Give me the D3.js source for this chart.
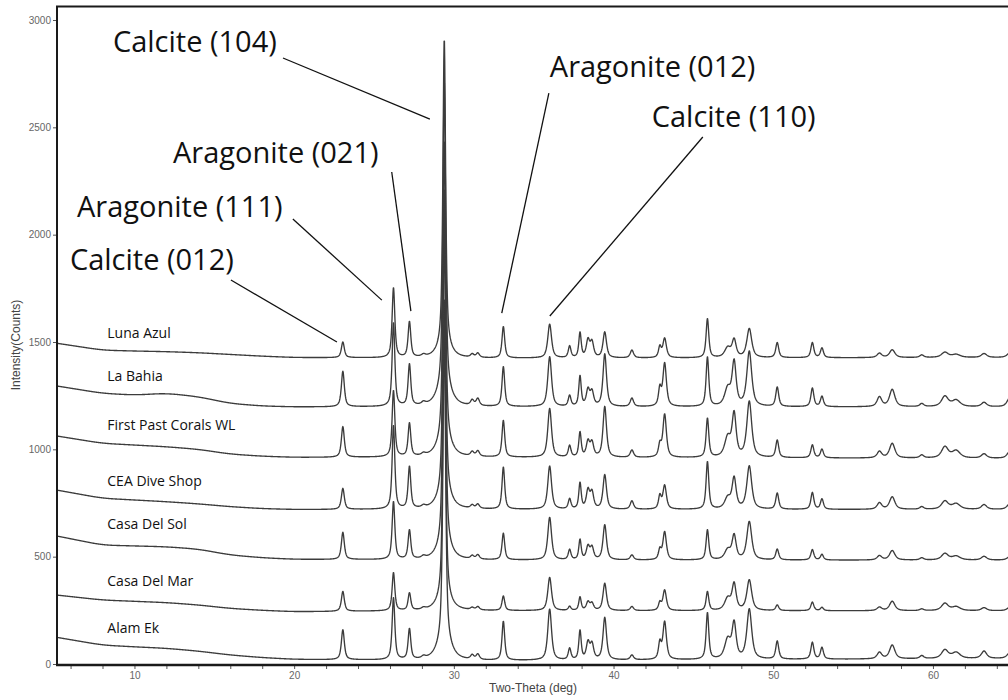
<!DOCTYPE html>
<meta charset="utf-8">
<style>
body { margin: 0; background: #fff; }
svg { display: block; background: #fff; }
.trace { fill: none; stroke: #3c3c3c; stroke-width: 1.35px; stroke-linejoin: round; }
.axis text { font-family: Arial, "Liberation Sans", sans-serif; font-size: 10px; fill: #666; }
.axis line { stroke: #555; stroke-width: 1px; }
.axis path { display: none; }
.frame { stroke: #1a1a1a; stroke-width: 2px; }
.axis-title { font-family: Arial, "Liberation Sans", sans-serif; font-size: 12px; fill: #444; }
.sample { font-family: "Open Sans", "Noto Sans", sans-serif; font-size: 14px; fill: #111; }
.phase { font-family: "Open Sans", "Noto Sans", sans-serif; font-size: 29px; fill: #111; }
.leader { stroke: #111; stroke-width: 1.3px; }
</style>
<body>
<script src="https://d3js.org/d3.v7.min.js"></script>
<script>
var width = 1008, height = 700;

// samples, top to bottom
var samples = ["Luna Azul", "La Bahia", "First Past Corals WL", "CEA Dive Shop",
               "Casa Del Sol", "Casa Del Mar", "Alam Ek"];
// label position (two-theta, counts) for each sample name
var sampleLabelX = 8.3;
var sampleLabelY = [1518, 1318, 1090, 829, 629, 363, 144];

// background at these angles
var baseAngles = [5.15, 8, 10, 12, 14, 16, 18, 20, 30, 65];
var baselines = [
  [1494, 1462, 1458, 1455, 1450, 1442, 1434, 1428, 1424, 1428],
  [1295, 1261, 1253, 1261, 1245, 1214, 1202, 1198, 1198, 1198],
  [1062, 1028, 1020, 1012, 1000,  978,  968,  963,  963,  958],
  [ 810,  772,  764,  756,  746,  733,  724,  720,  720,  720],
  [ 596,  554,  550,  546,  535,  508,  495,  488,  484,  484],
  [ 321,  298,  292,  286,  275,  259,  250,  244,  248,  248],
  [ 124,   88,   80,   73,   60,   42,   30,   22,   15,   26]
];

// reflections: position (deg), full width at half max (deg)
var peakPos   = [23.05, 26.22, 27.22, 28.1, 29.4, 29.4, 31.15, 31.5, 33.1, 36.0,
                 37.25, 37.9, 38.4, 38.65, 39.45, 41.15, 42.9, 43.2, 45.88, 47.15,
                 47.55, 48.5, 50.25, 52.45, 53.05, 56.65, 57.45, 59.3, 60.75, 61.45,
                 63.2, 64.8];
var peakWidth = [0.22, 0.2, 0.2, 0.3, 0.2, 1.0, 0.25, 0.25, 0.2, 0.28,
                 0.2, 0.18, 0.25, 0.25, 0.26, 0.25, 0.2, 0.26, 0.2, 0.45,
                 0.3, 0.36, 0.22, 0.22, 0.22, 0.35, 0.4, 0.3, 0.5, 0.6,
                 0.4, 0.4];
// peak heights above background, one row per reflection, one column per sample
var peakHeights = [
  [  73,  166,  143,   98,  127,   93,  140],
  [ 326,  390,  310,  390,  270,  178,  290],
  [ 166,  194,  155,  196,  135,   81,  143],
  [  10,   12,   10,   10,   10,    8,   10],
  [1450, 1440, 1410, 1440, 1500, 1410, 1460],
  [  40,   80,   70,   60,   60,   50,   80],
  [  15,   25,   20,   15,   15,   10,   20],
  [  20,   33,   25,   20,   20,   15,   25],
  [ 147,  186,  171,  196,  124,   68,  182],
  [ 158,  233,  228,  202,  199,  155,  239],
  [  54,   50,   53,   47,   47,   19,   53],
  [ 116,  140,  115,  121,   93,   62,  135],
  [  80,   75,   70,   85,   60,   38,   78],
  [  70,   65,   65,   75,   55,   32,   70],
  [ 120,  245,  236,  160,  163,  127,  197],
  [  36,   39,   34,   39,   23,   19,   22],
  [  50,   80,   55,   60,   45,   35,   75],
  [  90,  200,  200,  110,  130,   95,  175],
  [ 182,  230,  182,  222,  140,   88,  217],
  [  45,   80,   90,   50,   45,   55,   90],
  [  80,  200,  195,  140,  110,  120,  160],
  [ 135,  255,  260,  200,  178,  142,  232],
  [  70,   90,   81,   75,   50,   26,   84],
  [  70,   86,   60,   78,   48,   40,   78],
  [  45,   48,   40,   48,   26,   15,   54],
  [  20,   45,   30,   30,   20,   16,   30],
  [  36,   80,   68,   58,   44,   44,   64],
  [  12,   14,   14,   12,   10,    8,   14],
  [  24,   48,   52,   38,   30,   34,   40],
  [  14,   30,   34,   26,   18,   18,   28],
  [  18,   20,   20,   22,   17,   14,   34],
  [  20,   40,   30,   25,   15,   15,   25]
];

// phase labels: text anchor and leader from/to, all in (two-theta, counts)
var phaseNames = ["Calcite (104)", "Aragonite (021)", "Aragonite (111)",
                  "Calcite (012)", "Aragonite (012)", "Calcite (110)"];
var phaseText  = [[8.65, 2850], [12.41, 2334], [6.40, 2082], [5.96, 1835], [36.01, 2734], [42.39, 2501]];
var leaderFrom = [[19.30, 2823], [26.11, 2292], [19.92, 2073], [16.04, 1789], [35.95, 2659], [45.59, 2455]];
var leaderTo   = [[28.50, 2538], [27.31, 1644], [25.49, 1695], [22.68, 1500], [33.00, 1635], [36.01, 1621]];

var yTicks = [0, 500, 1000, 1500, 2000, 2500, 3000];
var xTicks = d3.range(6, 65, 2);

var x = d3.scaleLinear().domain([5.15, 64.7]).range([57, 1008]);
var y = d3.scaleLinear().domain([0, 3000]).range([664, 20]);

var svg = d3.select("body").append("svg")
    .attr("width", width)
    .attr("height", height);

svg.append("defs").append("clipPath").attr("id", "plot")
  .append("rect").attr("x", 57).attr("y", 6).attr("width", 951).attr("height", 658);

// pseudo-voigt profile of one reflection
function profile(d, w) {
  var u = (2 * d / w) * (2 * d / w);
  return 0.72 / (1 + u) + 0.28 * Math.exp(-0.693 * u);
}

var step = 0.02;
var grid = d3.range(5.15, 64.75, step);
var pad = Math.round(0.8 / step);   // half window for softening the background

var traces = samples.map(function(name, s) {
  var bg = d3.scaleLinear().domain(baseAngles).range(baselines[s]);
  var raw = d3.range(-pad, grid.length + pad).map(function(i) { return bg(5.15 + i * step); });
  return grid.map(function(t, i) {
    var v = d3.mean(raw.slice(i, i + 2 * pad + 1));
    for (var k = 0; k < peakPos.length; k++) {
      var d = t - peakPos[k];
      if (Math.abs(d) < 6) v += peakHeights[k][s] * profile(d, peakWidth[k]);
    }
    return [t, v];
  });
});

var line = d3.line()
  .x(function(d) { return x(d[0]); })
  .y(function(d) { return y(d[1]); });

svg.append("g").attr("clip-path", "url(#plot)")
  .selectAll("path")
  .data(traces.slice().reverse())
  .enter().append("path")
    .attr("class", "trace")
    .attr("d", line);

// axes
svg.append("g").attr("class", "axis")
  .attr("transform", "translate(57,0)")
  .call(d3.axisLeft(y).tickValues(yTicks).tickSize(4).tickPadding(2).tickFormat(d3.format("d")));

svg.append("g").attr("class", "axis")
  .attr("transform", "translate(0,665)")
  .call(d3.axisBottom(x).tickValues(xTicks).tickSize(4).tickPadding(3)
    .tickFormat(function(d) { return d % 10 === 0 ? d : ""; }));

svg.append("line").attr("class", "frame")
  .attr("x1", 57).attr("x2", 57).attr("y1", 6).attr("y2", 666);
svg.append("line").attr("class", "frame")
  .attr("x1", 56).attr("x2", 1008).attr("y1", 665).attr("y2", 665)
  .style("stroke-width", "2.5px");
svg.append("line").attr("class", "frame")
  .attr("x1", 56).attr("x2", 1008).attr("y1", 6.5).attr("y2", 6.5);

svg.append("text").attr("class", "axis-title")
  .attr("x", 533).attr("y", 692)
  .attr("text-anchor", "middle")
  .text("Two-Theta (deg)");

svg.append("text").attr("class", "axis-title")
  .attr("transform", "translate(20,345) rotate(-90)")
  .attr("text-anchor", "middle")
  .text("Intensity(Counts)");

// sample names
svg.selectAll(".sample")
  .data(samples)
  .enter().append("text")
    .attr("class", "sample")
    .attr("x", x(sampleLabelX))
    .attr("y", function(d, i) { return y(sampleLabelY[i]); })
    .text(function(d) { return d; });

// phase labels with leaders
svg.selectAll(".leader")
  .data(phaseNames)
  .enter().append("line")
    .attr("class", "leader")
    .attr("x1", function(d, i) { return x(leaderFrom[i][0]); })
    .attr("y1", function(d, i) { return y(leaderFrom[i][1]); })
    .attr("x2", function(d, i) { return x(leaderTo[i][0]); })
    .attr("y2", function(d, i) { return y(leaderTo[i][1]); });

svg.selectAll(".phase")
  .data(phaseNames)
  .enter().append("text")
    .attr("class", "phase")
    .attr("x", function(d, i) { return x(phaseText[i][0]); })
    .attr("y", function(d, i) { return y(phaseText[i][1]); })
    .text(function(d) { return d; });
</script>
</body>
